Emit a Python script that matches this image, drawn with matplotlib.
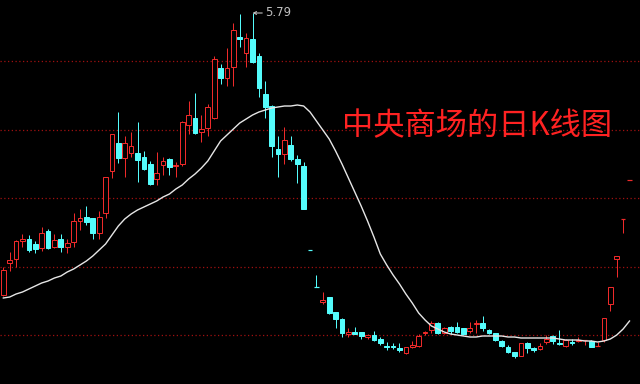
"""
Daily K-line (candlestick) chart of 中央商场 with its moving average.
Black background, hollow red up-candles, filled cyan down-candles,
dotted dark-red guide lines.  Saves out.png (640x384).
"""

import matplotlib
matplotlib.use("Agg")
import matplotlib.pyplot as plt
from matplotlib.patches import Rectangle

# ---------------------------------------------------------------------------
# Data (prices)
# ---------------------------------------------------------------------------
OPEN = [
    2.97, 3.29, 3.33, 3.51, 3.53, 3.48, 3.44, 3.61, 3.45, 3.53,
    3.45, 3.50, 3.71, 3.75, 3.74, 3.59, 3.79, 4.21, 4.49, 4.34,
    4.39, 4.39, 4.35, 4.28, 4.13, 4.27, 4.33, 4.26, 4.28, 4.67,
    4.74, 4.60, 4.64, 4.74, 5.24, 5.14, 5.25, 5.55, 5.39, 5.53,
    5.36, 4.98, 4.86, 4.43, 4.38, 4.47, 4.33, 4.26, 3.42, 3.05,
    2.90, 2.95, 2.80, 2.73, 2.58, 2.60, 2.60, 2.55, 2.57, 2.53,
    2.46, 2.46, 2.44, 2.39, 2.45, 2.46, 2.59, 2.62, 2.69, 2.59,
    2.65, 2.65, 2.64, 2.61, 2.68, 2.69, 2.62, 2.59, 2.51, 2.45,
    2.40, 2.36, 2.49, 2.44, 2.43, 2.50, 2.56, 2.49, 2.46, 2.50,
    2.51, 2.52, 2.51, 2.46, 2.52, 2.88, 3.33, 3.73, 4.12,
]
HIGH = [
    3.25, 3.40, 3.52, 3.58, 3.57, 3.51, 3.65, 3.63, 3.58, 3.58,
    3.53, 3.79, 3.83, 3.86, 3.74, 3.81, 4.15, 4.58, 4.80, 4.56,
    4.60, 4.70, 4.41, 4.31, 4.40, 4.35, 4.34, 4.30, 4.71, 4.91,
    4.99, 4.77, 4.88, 5.36, 5.28, 5.44, 5.69, 5.78, 5.59, 5.79,
    5.39, 5.11, 4.87, 4.56, 4.65, 4.56, 4.37, 4.30, 3.42, 3.17,
    3.00, 2.95, 2.80, 2.74, 2.64, 2.65, 2.60, 2.58, 2.61, 2.55,
    2.50, 2.49, 2.49, 2.45, 2.51, 2.58, 2.61, 2.71, 2.70, 2.65,
    2.66, 2.70, 2.64, 2.70, 2.72, 2.76, 2.63, 2.59, 2.52, 2.47,
    2.40, 2.49, 2.50, 2.45, 2.49, 2.57, 2.57, 2.62, 2.53, 2.53,
    2.55, 2.52, 2.52, 2.50, 2.74, 3.05, 3.36, 3.73, 4.12,
]
LOW = [
    2.96, 3.21, 3.25, 3.45, 3.40, 3.39, 3.41, 3.43, 3.44, 3.40,
    3.39, 3.45, 3.62, 3.67, 3.53, 3.53, 3.74, 4.14, 4.29, 4.15,
    4.35, 4.10, 4.22, 4.07, 4.07, 4.17, 4.17, 4.15, 4.26, 4.58,
    4.58, 4.50, 4.56, 4.73, 5.08, 5.06, 5.06, 5.45, 5.25, 5.29,
    4.95, 4.74, 4.35, 4.15, 4.28, 4.31, 4.09, 3.83, 3.42, 3.05,
    2.88, 2.78, 2.64, 2.55, 2.55, 2.58, 2.53, 2.53, 2.51, 2.47,
    2.42, 2.43, 2.40, 2.38, 2.44, 2.45, 2.57, 2.59, 2.58, 2.58,
    2.58, 2.59, 2.57, 2.59, 2.59, 2.61, 2.58, 2.51, 2.45, 2.39,
    2.34, 2.36, 2.39, 2.40, 2.42, 2.48, 2.48, 2.47, 2.45, 2.47,
    2.50, 2.47, 2.45, 2.46, 2.50, 2.81, 3.15, 3.59, 4.12,
]
CLOSE = [
    3.22, 3.32, 3.51, 3.53, 3.42, 3.43, 3.59, 3.44, 3.52, 3.45,
    3.49, 3.71, 3.74, 3.70, 3.59, 3.75, 4.15, 4.58, 4.34, 4.49,
    4.46, 4.32, 4.23, 4.08, 4.19, 4.31, 4.25, 4.27, 4.70, 4.77,
    4.59, 4.63, 4.85, 5.33, 5.14, 5.24, 5.62, 5.53, 5.54, 5.30,
    5.04, 4.85, 4.46, 4.38, 4.52, 4.33, 4.28, 3.83, 3.42, 3.05,
    2.92, 2.79, 2.73, 2.59, 2.60, 2.58, 2.56, 2.57, 2.52, 2.49,
    2.45, 2.45, 2.42, 2.45, 2.47, 2.56, 2.60, 2.69, 2.59, 2.64,
    2.61, 2.60, 2.58, 2.64, 2.69, 2.64, 2.59, 2.52, 2.46, 2.40,
    2.36, 2.49, 2.44, 2.42, 2.46, 2.53, 2.51, 2.48, 2.52, 2.49,
    2.52, 2.52, 2.45, 2.46, 2.74, 3.05, 3.36, 3.73, 4.12,
]
MA = [
    2.94, 2.95, 2.98, 3.00, 3.03, 3.06, 3.09, 3.11, 3.14, 3.16,
    3.20, 3.23, 3.27, 3.31, 3.36, 3.42, 3.48, 3.57, 3.66, 3.73,
    3.78, 3.82, 3.85, 3.88, 3.91, 3.95, 3.98, 4.03, 4.07, 4.13,
    4.18, 4.24, 4.31, 4.41, 4.51, 4.57, 4.63, 4.69, 4.73, 4.77,
    4.80, 4.82, 4.84, 4.85, 4.86, 4.86, 4.87, 4.86, 4.80, 4.71,
    4.62, 4.53, 4.41, 4.28, 4.14, 4.00, 3.86, 3.71, 3.55, 3.38,
    3.27, 3.17, 3.08, 2.98, 2.89, 2.79, 2.72, 2.66, 2.63, 2.60,
    2.58, 2.57, 2.56, 2.55, 2.55, 2.56, 2.56, 2.56, 2.56, 2.55,
    2.55, 2.54, 2.54, 2.54, 2.54, 2.54, 2.54, 2.53, 2.52, 2.52,
    2.52, 2.51, 2.51, 2.50, 2.51, 2.53, 2.57, 2.63, 2.71,
]
GRID_LEVELS = [5.31, 4.62, 3.94, 3.25, 2.57]
TITLE = "中央商场的日K线图"

# ---------------------------------------------------------------------------
# Style
# ---------------------------------------------------------------------------
BG          = "black"
UP_COLOR    = "#ee2a2a"
DOWN_COLOR  = "#54fcfc"
MA_COLOR    = "#e6e6e6"
GRID_COLOR  = "#a01010"
LABEL_COLOR = "#c0c0c0"
TITLE_COLOR = "#ff2222"
BODY_W      = 0.74      # candle body width in bar units
PX          = 0.72      # one pixel in points at dpi 100


def candle_colors() -> list[str]:
    """Red for up days, cyan for down days; flat days follow the previous close."""
    colors = []
    for i, (o, c) in enumerate(zip(OPEN, CLOSE)):
        if c > o:
            colors.append(UP_COLOR)
        elif c < o:
            colors.append(DOWN_COLOR)
        else:
            prev = CLOSE[i - 1] if i else c
            colors.append(UP_COLOR if c >= prev else DOWN_COLOR)
    return colors


def draw_candles(ax) -> None:
    colors = candle_colors()
    for i in range(len(OPEN)):
        o, h, l, c = OPEN[i], HIGH[i], LOW[i], CLOSE[i]
        col = colors[i]
        ax.vlines(i, l, h, color=col, lw=PX, zorder=2)
        if o == c:
            ax.hlines(o, i - BODY_W / 2, i + BODY_W / 2, color=col, lw=PX * 1.2, zorder=3)
            continue
        bottom, top = min(o, c), max(o, c)
        face = BG if col == UP_COLOR else col
        ax.add_patch(Rectangle((i - BODY_W / 2, bottom), BODY_W, top - bottom,
                               facecolor=face, edgecolor=col, lw=PX, zorder=3))


def main() -> None:
    fig = plt.figure(figsize=(6.4, 3.84), dpi=100, facecolor=BG)
    ax = fig.add_axes([0, 0, 1, 1])
    ax.set_facecolor(BG)
    ax.set_axis_off()

    for lvl in GRID_LEVELS:
        ax.axhline(lvl, color=GRID_COLOR, lw=0.9, linestyle=(0, (1, 2)), zorder=1)

    draw_candles(ax)
    ax.plot(range(len(MA)), MA, color=MA_COLOR, lw=1.0, zorder=4)

    # mark the highest high
    peak = max(range(len(HIGH)), key=lambda k: HIGH[k])
    ax.annotate(f"{HIGH[peak]:.2f}", xy=(peak, HIGH[peak]), xytext=(9, 0),
                textcoords="offset points", color=LABEL_COLOR, fontsize=8.5,
                ha="left", va="center", zorder=5,
                arrowprops=dict(arrowstyle="->", color=LABEL_COLOR, lw=0.8,
                                mutation_scale=5, shrinkA=0, shrinkB=0))

    fig.text(0.746, 0.672, TITLE, color=TITLE_COLOR, fontsize=22.5,
             family=["Noto Sans CJK SC", "DejaVu Sans"], ha="center", va="center")

    ax.set_xlim(-0.52, 99.64)
    ax.set_ylim(2.08, 5.92)

    fig.savefig("out.png", dpi=100, facecolor=BG)


if __name__ == "__main__":
    main()
